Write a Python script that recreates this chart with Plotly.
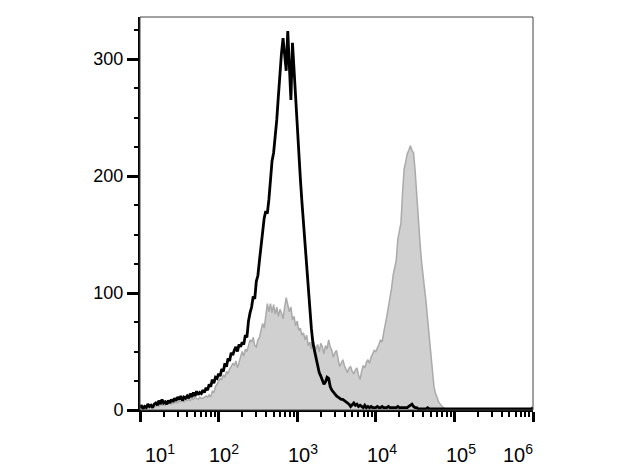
import plotly.graph_objects as go

# Channel positions (log10 of fluorescence intensity)
log_intensity = [
    1.00, 1.02, 1.04, 1.06, 1.08, 1.10, 1.12, 1.14, 1.16, 1.18,
    1.20, 1.22, 1.24, 1.26, 1.28, 1.30, 1.32, 1.34, 1.36, 1.38,
    1.40, 1.42, 1.44, 1.46, 1.48, 1.50, 1.52, 1.54, 1.56, 1.58,
    1.60, 1.62, 1.64, 1.66, 1.68, 1.70, 1.72, 1.74, 1.76, 1.78,
    1.80, 1.82, 1.84, 1.86, 1.88, 1.90, 1.92, 1.94, 1.96, 1.98,
    2.00, 2.02, 2.04, 2.06, 2.08, 2.10, 2.12, 2.14, 2.16, 2.18,
    2.20, 2.22, 2.24, 2.26, 2.28, 2.30, 2.32, 2.34, 2.36, 2.38,
    2.40, 2.42, 2.44, 2.46, 2.48, 2.50, 2.52, 2.54, 2.56, 2.58,
    2.60, 2.62, 2.64, 2.66, 2.68, 2.70, 2.72, 2.74, 2.76, 2.78,
    2.80, 2.82, 2.84, 2.86, 2.88, 2.90, 2.92, 2.94, 2.96, 2.98,
    3.00, 3.02, 3.04, 3.06, 3.08, 3.10, 3.12, 3.14, 3.16, 3.18,
    3.20, 3.22, 3.24, 3.26, 3.28, 3.30, 3.32, 3.34, 3.36, 3.38,
    3.40, 3.42, 3.44, 3.46, 3.48, 3.50, 3.52, 3.54, 3.56, 3.58,
    3.60, 3.62, 3.64, 3.66, 3.68, 3.70, 3.72, 3.74, 3.76, 3.78,
    3.80, 3.82, 3.84, 3.86, 3.88, 3.90, 3.92, 3.94, 3.96, 3.98,
    4.00, 4.02, 4.04, 4.06, 4.08, 4.10, 4.12, 4.14, 4.16, 4.18,
    4.20, 4.22, 4.24, 4.26, 4.28, 4.30, 4.32, 4.34, 4.36, 4.38,
    4.40, 4.42, 4.44, 4.46, 4.48, 4.50, 4.52, 4.54, 4.56, 4.58,
    4.60, 4.62, 4.64, 4.66, 4.68, 4.70, 4.72, 4.74, 4.76, 4.78,
    4.80, 4.82, 4.84, 4.86, 4.88, 4.90, 4.92, 4.94, 4.96, 4.98,
    5.00, 5.02, 5.04, 5.06, 5.08, 5.10, 5.12, 5.14, 5.16, 5.18,
    5.20, 5.22, 5.24, 5.26, 5.28, 5.30, 5.32, 5.34, 5.36, 5.38,
    5.40, 5.42, 5.44, 5.46, 5.48, 5.50, 5.52, 5.54, 5.56, 5.58,
    5.60, 5.62, 5.64, 5.66, 5.68, 5.70, 5.72, 5.74, 5.76, 5.78,
    5.80, 5.82, 5.84, 5.86, 5.88, 5.90, 5.92, 5.94, 5.96, 5.98,
    6.00,
]

# Control (black outline) counts
control_counts = [
    2, 4, 1, 3, 2, 5, 3, 4, 2, 5,
    6, 4, 8, 5, 9, 6, 7, 5, 8, 6,
    9, 7, 10, 8, 11, 9, 12, 8, 11, 10,
    12, 10, 14, 11, 15, 12, 16, 13, 15, 14,
    17, 15, 19, 17, 22, 20, 26, 23, 28, 27,
    31, 29, 35, 33, 40, 37, 44, 42, 49, 47,
    51, 54, 50, 56, 54, 58, 56, 64, 62, 76,
    83, 88, 97, 95, 110, 115, 128, 140, 157, 164,
    170, 168, 180, 195, 213, 220, 232, 248, 268, 290,
    305, 318, 300, 290, 324, 300, 265, 314, 290, 262,
    236, 215, 198, 178, 160, 140, 118, 100, 85, 70,
    57, 50, 43, 38, 32, 29, 25, 22, 24, 28,
    27, 20, 17, 15, 13, 12, 11, 10, 9, 9,
    8, 7, 6, 5, 3, 5, 6, 4, 5, 3,
    4, 3, 2, 4, 2, 3, 2, 3, 2, 2,
    2, 3, 2, 2, 3, 2, 2, 2, 3, 2,
    2, 2, 2, 2, 3, 2, 2, 2, 2, 2,
    2, 3, 4, 5, 3, 2, 2, 1, 1, 1,
    1, 1, 1, 2, 1, 1, 1, 1, 1, 1,
    1, 1, 1, 1, 1, 1, 1, 1, 1, 1,
    1, 1, 1, 1, 1, 1, 1, 1, 1, 1,
    1, 1, 1, 1, 1, 1, 1, 1, 1, 1,
    1, 1, 1, 1, 1, 1, 1, 1, 1, 1,
    1, 1, 1, 1, 1, 1, 1, 1, 1, 1,
    1, 1, 1, 1, 1, 1, 1, 1, 1, 1,
    2,
]

# Stained sample (gray filled) counts
stained_counts = [
    1, 2, 1, 2, 2, 3, 2, 3, 2, 3,
    3, 4, 3, 5, 4, 5, 4, 6, 5, 6,
    5, 6, 6, 7, 6, 8, 7, 8, 7, 9,
    8, 9, 8, 10, 9, 11, 10, 9, 11, 10,
    10, 11, 12, 11, 13, 11, 16, 15, 20, 22,
    25, 27, 26, 30, 28, 33, 31, 35, 37, 40,
    38, 42, 36, 41, 45, 50, 46, 52, 50, 56,
    60, 58, 62, 55, 54, 60, 62, 68, 74, 70,
    80, 91, 84, 91, 83, 90, 82, 88, 80, 86,
    83, 78, 88, 96, 90, 84, 88, 77, 80, 72,
    76, 68, 70, 64, 66, 60, 64, 55, 58, 52,
    62, 55, 52, 56, 50, 57, 54, 48, 55, 52,
    60, 54, 51, 45, 49, 51, 44, 37, 40, 43,
    38, 34, 32, 36, 37, 33, 31, 34, 36, 30,
    26, 33, 38, 36, 41, 43, 40, 45, 48, 51,
    50, 54, 56, 60, 58, 66, 72, 80, 88, 95,
    104, 115, 122, 128, 146, 152, 160, 185, 206, 212,
    219, 222, 226, 222, 220, 205, 182, 160, 145, 128,
    117, 102, 92, 77, 62, 45, 30, 20, 14, 10,
    7, 5, 3, 2, 1, 1, 0, 0, 0, 0,
    0, 0, 0, 0, 0, 0, 0, 0, 0, 0,
    0, 0, 0, 0, 0, 0, 0, 0, 0, 0,
    0, 0, 0, 0, 0, 0, 0, 0, 0, 0,
    0, 0, 0, 0, 0, 0, 0, 0, 0, 0,
    0, 0, 0, 0, 0, 0, 0, 0, 0, 0,
    0,
]

y_ticks = [0, 100, 200, 300]
x_decades = [1, 2, 3, 4, 5, 6]
# label centres (log units) as placed in the original, slightly offset from ticks
x_label_pos = [1.256, 2.074, 3.072, 4.082, 5.079, 5.808]

FONT = "Liberation Sans, Arial, sans-serif"

x_vals = [10 ** v for v in log_intensity]

fig = go.Figure()
fig.add_trace(go.Scatter(
    x=x_vals, y=stained_counts, mode="lines",
    line=dict(color="rgb(170,170,170)", width=1.5),
    fill="tozeroy", fillcolor="rgb(208,208,208)",
    showlegend=False, hoverinfo="skip",
))
fig.add_trace(go.Scatter(
    x=x_vals, y=control_counts, mode="lines",
    line=dict(color="black", width=2.8),
    showlegend=False, hoverinfo="skip",
))

major_x = [10 ** d for d in x_decades]
minor_x = [k * 10 ** d for d in x_decades[:-1] for k in range(2, 10)]

fig.update_xaxes(
    type="log", range=[1, 6],
    showline=True, linecolor="black", linewidth=2,
    ticks="outside", tickvals=major_x, ticklen=10, tickwidth=3, tickcolor="black",
    showticklabels=False, showgrid=False, zeroline=False,
    minor=dict(tickvals=minor_x, ticks="outside", ticklen=5, tickwidth=1.5,
               tickcolor="black", showgrid=False),
)
fig.update_yaxes(
    range=[0, 336],
    showline=True, linecolor="black", linewidth=2,
    ticks="outside", tickvals=y_ticks, ticklen=11, tickwidth=3, tickcolor="black",
    tickfont=dict(family=FONT, size=18, color="black"),
    showgrid=False, zeroline=False,
    minor=dict(dtick=25, ticks="outside", ticklen=4, tickwidth=1.5,
               tickcolor="black", showgrid=False),
)

for d, pos in zip(x_decades, x_label_pos):
    fig.add_annotation(
        x=pos, y=-0.11, xref="x", yref="paper",
        text=f"10<sup>{d}</sup>", showarrow=False,
        font=dict(family=FONT, size=20, color="black"),
        xanchor="center", yanchor="middle",
    )

fig.add_shape(type="rect", xref="paper", yref="paper", x0=0, x1=1, y0=0, y1=1,
              line=dict(color="#444", width=1), layer="above")

# the page adds an 8px body margin, so the figure is sized to fit inside it
fig.update_layout(
    width=620, height=463,
    margin=dict(l=132, r=95, t=9, b=61),
    paper_bgcolor="white", plot_bgcolor="white",
)

fig.write_html("out.html")
